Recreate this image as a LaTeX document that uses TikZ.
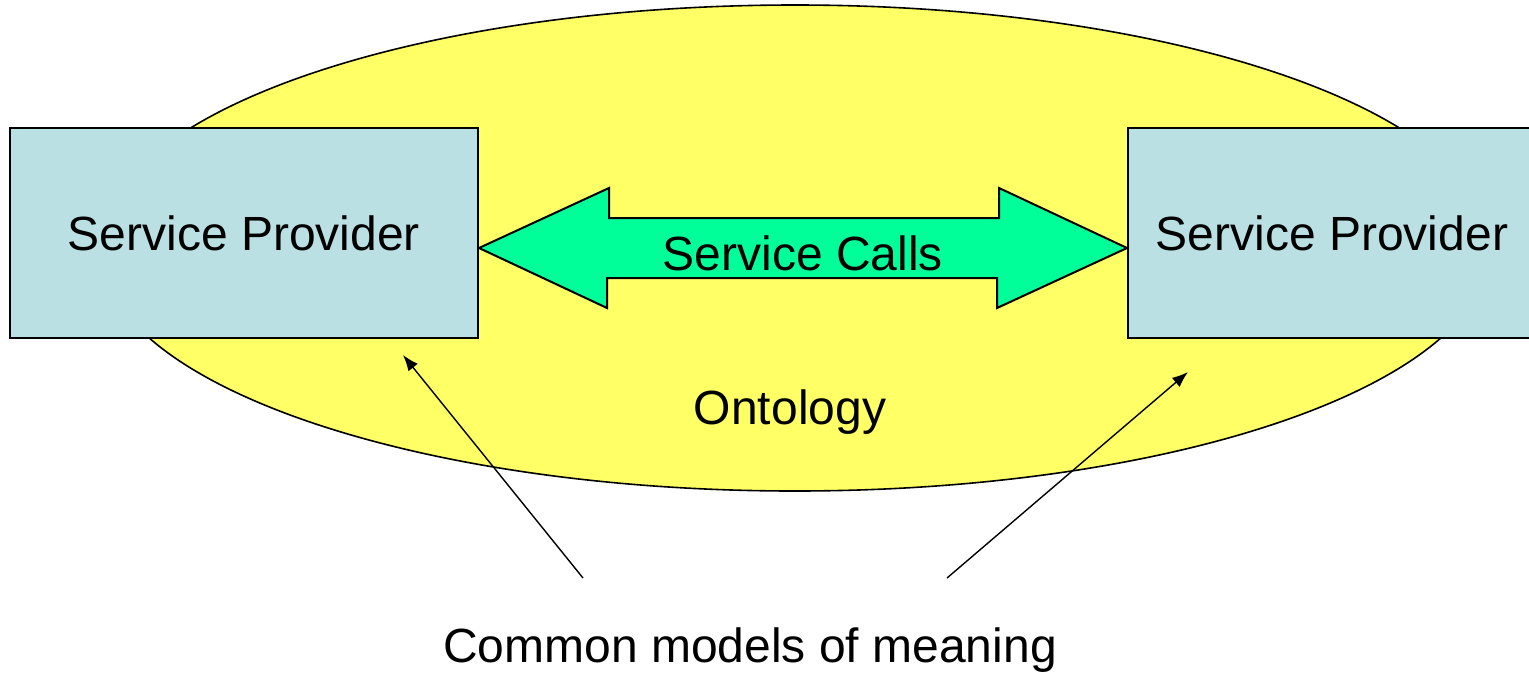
\documentclass[tikz,border=0pt]{standalone}
\usepackage{fontspec}
\setmainfont{Liberation Sans}
\usetikzlibrary{arrows.meta,calc,positioning}
\definecolor{ontoyellow}{HTML}{FFFF66}
\definecolor{provblue}{HTML}{BBE0E3}
\definecolor{callgreen}{HTML}{00FF99}
\newcommand{\SBig}{\fontsize{24}{29}\selectfont}

\begin{document}
\begin{tikzpicture}[x=0.5pt, y=-0.5pt,
  font=\SBig,
  provider/.style={draw=black, line width=1pt, fill=provblue,
                   minimum height=105pt, inner sep=0pt},
  callarrow/.style={draw=black, line width=1pt, fill=callgreen,
                    line join=miter},
  pointer/.style={-{Latex[length=8pt,width=6pt]}, draw=black,
                  line width=0.7pt},
  plain/.style={inner sep=0pt}
]
\useasboundingbox (0,0) rectangle (1529,675);

% Ontology background
\draw[fill=ontoyellow, line width=0.8pt] (795,248) ellipse [x radius=695, y radius=243];
\node[plain] (onto) at (790,412) {Ontology};

% The two providers
\node[provider, minimum width=234pt] (spleft) at (244,233) {\raisebox{-1.5pt}{Service Provider}};
\node[provider, minimum width=204pt] (spright) at (1332,233) {\raisebox{-1.5pt}{Service Provider}};

% Service calls, both ways
\coordinate (ltip) at ($(spleft.east)+(0,15)$);
\coordinate (rtip) at ($(spright.west)+(0,15)$);
\draw[callarrow] (ltip) -- ++(130,-60) -- ++(0,30) -- ++(390,0) -- ++(0,-30)
  -- (rtip) -- ++(-130,60) -- ++(0,-30) -- ++(-390,0) -- ++(0,30) -- cycle;
\node[plain] (calls) at ($(ltip)!0.5!(rtip)+(0,5)$) {Service Calls};

% Common models
\node[plain] (common) at (750,650) {Common models of meaning};
\coordinate (lfoot) at (583,578);
\coordinate (rfoot) at (947,578);
\coordinate (lhead) at (403,355);
\coordinate (rhead) at (1188,372);
\draw[pointer] (lfoot) -- (lhead);
\draw[pointer] (rfoot) -- (rhead);
\end{tikzpicture}
\end{document}
